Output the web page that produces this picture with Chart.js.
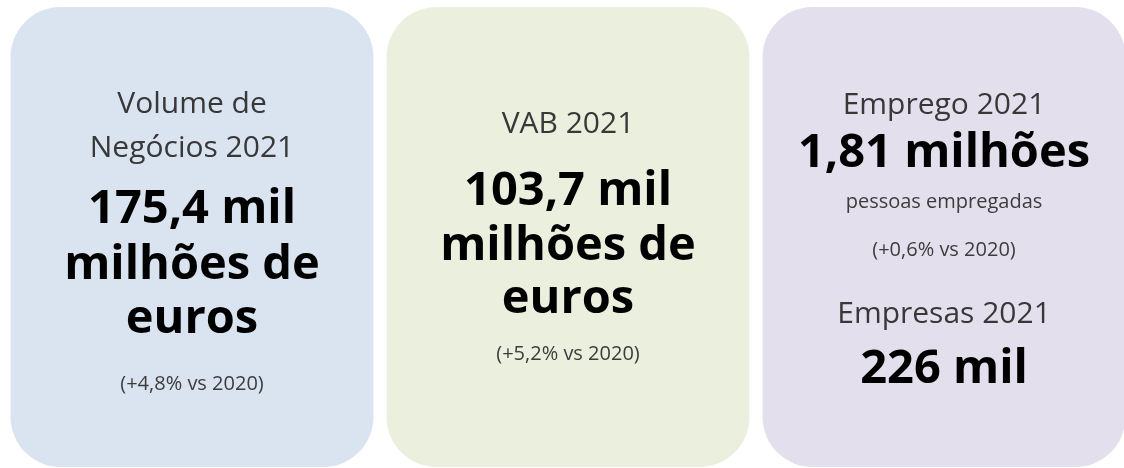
<!DOCTYPE html>
<html lang="pt">
<head>
<meta charset="utf-8">
<title>Indicadores 2021</title>
<script src="https://cdn.jsdelivr.net/npm/chart.js@4/dist/chart.umd.min.js"></script>
<style>
  html, body { margin: 0; padding: 0; background: #ffffff; overflow: hidden; }
  canvas { display: block; }
</style>
</head>
<body>
<canvas id="cartoes" width="1132" height="468"></canvas>
<script>
// Dados dos cartões
const categorias = ['Volume de Negócios 2021', 'VAB 2021', 'Emprego 2021'];
const valores = [1, 1, 1]; // cada cartão ocupa a altura toda

// Textos de cada cartão (linha a linha)
const textosCartao1 = ['Volume de', 'Negócios 2021', '175,4 mil', 'milhões de', 'euros', '(+4,8% vs 2020)'];
const textosCartao2 = ['VAB 2021', '103,7 mil', 'milhões de', 'euros', '(+5,2% vs 2020)'];
const textosCartao3 = ['Emprego 2021', '1,81 milhões', 'pessoas empregadas', '(+0,6% vs 2020)', 'Empresas 2021', '226 mil'];
const textos = [textosCartao1, textosCartao2, textosCartao3];

// Cores dos cartões
const cores = ['#DAE3F0', '#EBF0DE', '#E4DFEC'];

// Estilo e posição (linha de base) de cada linha de texto
const estilos = {
    titulo: { font: '30px "Open Sans"', color: '#383838' },
    grande: { font: 'bold 47px "Open Sans"', color: '#000000' },
    pequeno: { font: '20px "Open Sans"', color: '#3c3c3c' }
};
const layoutTextos = [
    [['titulo', 113], ['titulo', 157], ['grande', 223], ['grande', 279], ['grande', 333], ['pequeno', 390]],
    [['titulo', 133], ['grande', 205], ['grande', 260], ['grande', 313], ['pequeno', 360]],
    [['titulo', 114], ['grande', 167], ['pequeno', 208], ['pequeno', 256], ['titulo', 323], ['grande', 383]]
];

// Plugin que escreve os textos centrados em cada cartão
const textoCartoes = {
    id: 'textoCartoes',
    afterDatasetsDraw(chart) {
        const ctx = chart.ctx;
        const barras = chart.getDatasetMeta(0).data;
        ctx.save();
        ctx.textAlign = 'center';
        ctx.textBaseline = 'alphabetic';
        barras.forEach((barra, i) => {
            textos[i].forEach((linha, j) => {
                const [tipo, y] = layoutTextos[i][j];
                ctx.font = estilos[tipo].font;
                ctx.fillStyle = estilos[tipo].color;
                ctx.fillText(linha, barra.x, y);
            });
        });
        ctx.restore();
    }
};

const ctx = document.getElementById('cartoes').getContext('2d');

const grafico = new Chart(ctx, {
    type: 'bar',
    data: {
        labels: categorias,
        datasets: [{
            data: valores,
            backgroundColor: cores,
            borderRadius: 50,
            borderSkipped: false,
            barPercentage: 1,
            categoryPercentage: 0.965
        }]
    },
    options: {
        responsive: false,
        animation: false,
        layout: { padding: { left: 4, right: 0, top: 7, bottom: 1 } },
        plugins: {
            legend: { display: false },
            tooltip: { enabled: false }
        },
        scales: {
            x: { display: false },
            y: { display: false, min: 0, max: 1 }
        }
    },
    plugins: [textoCartoes]
});
</script>
</body>
</html>
